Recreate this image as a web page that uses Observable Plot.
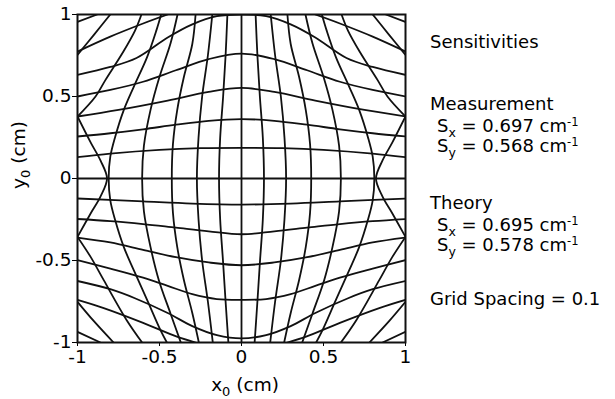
<!DOCTYPE html>
<html>
<head>
<meta charset="utf-8">
<script src="https://cdn.jsdelivr.net/npm/d3@7"></script>
<script src="https://cdn.jsdelivr.net/npm/@observablehq/plot@0.6"></script>
<style>
  body { margin: 0; background: #fff; }
  #chart { position: relative; width: 615px; height: 399px; }
</style>
</head>
<body>
<div id="chart"></div>
<script>
// ---- tick labels ----
const xTicks = [-1, -0.5, 0, 0.5, 1];
const yTicks = [-1, -0.5, 0, 0.5, 1];

const horizontalUpper = [
  [[-1, 0], [1, 0]],
  [[-1, 0.13], [-0.8, 0.152], [-0.5, 0.175], [-0.25, 0.185], [0, 0.187], [0.25, 0.185], [0.5, 0.175], [0.8, 0.152], [1, 0.13]],
  [[-1, 0.256], [-0.8, 0.276], [-0.6, 0.3], [-0.4, 0.328], [-0.2, 0.352], [0, 0.362], [0.2, 0.352], [0.4, 0.328], [0.6, 0.3], [0.8, 0.276], [1, 0.256]],
  [[-1, 0.378], [-0.75, 0.418], [-0.45, 0.475], [-0.2, 0.528], [0, 0.552], [0.2, 0.528], [0.45, 0.475], [0.75, 0.418], [1, 0.378]],
  [[-1, 0.5], [-0.8, 0.54], [-0.6, 0.59], [-0.4, 0.66], [-0.2, 0.728], [0, 0.762], [0.2, 0.728], [0.4, 0.66], [0.6, 0.59], [0.8, 0.54], [1, 0.5]],
  [[-1, 0.632], [-0.8, 0.68], [-0.64, 0.735], [-0.45, 0.86], [-0.3, 0.94], [-0.15, 0.99], [0, 1.0], [0.15, 0.99], [0.3, 0.94], [0.45, 0.86], [0.64, 0.735], [0.8, 0.68], [1, 0.632]]
];

// ---- lines of constant measured y, lower half ----
const horizontalLower = [
  [[-1, -0.122], [-0.6, -0.14], [-0.3, -0.153], [0, -0.159], [0.3, -0.153], [0.6, -0.14], [1, -0.122]],
  [[-1, -0.247], [-0.8, -0.26], [-0.6, -0.278], [-0.4, -0.3], [-0.2, -0.322], [0, -0.34], [0.2, -0.322], [0.4, -0.3], [0.6, -0.278], [0.8, -0.26], [1, -0.247]],
  [[-1, -0.36], [-0.8, -0.39], [-0.6, -0.435], [-0.4, -0.48], [-0.2, -0.512], [0, -0.529], [0.2, -0.512], [0.4, -0.48], [0.6, -0.435], [0.8, -0.39], [1, -0.36]],
  [[-1, -0.498], [-0.8, -0.55], [-0.6, -0.605], [-0.45, -0.655], [-0.3, -0.705], [-0.15, -0.735], [0, -0.74], [0.15, -0.735], [0.3, -0.705], [0.45, -0.655], [0.6, -0.605], [0.8, -0.55], [1, -0.498]],
  [[-1, -0.625], [-0.8, -0.675], [-0.65, -0.73], [-0.45, -0.82], [-0.3, -0.9], [-0.15, -0.955], [0, -0.975], [0.15, -0.955], [0.3, -0.9], [0.45, -0.82], [0.65, -0.73], [0.8, -0.675], [1, -0.625]]
];

// ---- lines of constant measured x, left half ----
const verticalLeft = [
  [[0, -1], [0, 1]],
  [[-0.08, -1], [-0.097, -0.75], [-0.113, -0.5], [-0.13, -0.25], [-0.137, 0], [-0.13, 0.25], [-0.112, 0.5], [-0.097, 0.75], [-0.086, 1]],
  [[-0.175, -1], [-0.205, -0.75], [-0.24, -0.5], [-0.262, -0.25], [-0.272, 0], [-0.262, 0.25], [-0.24, 0.5], [-0.205, 0.75], [-0.178, 1]],
  [[-0.26, -1], [-0.3, -0.82], [-0.351, -0.62], [-0.392, -0.417], [-0.418, -0.21], [-0.425, 0], [-0.418, 0.21], [-0.392, 0.417], [-0.351, 0.62], [-0.3, 0.82], [-0.28, 1]],
  [[-0.37, -1], [-0.433, -0.823], [-0.504, -0.62], [-0.555, -0.417], [-0.595, -0.2], [-0.606, 0], [-0.595, 0.2], [-0.555, 0.417], [-0.5, 0.62], [-0.433, 0.823], [-0.39, 1]],
  [[-0.455, -1], [-0.494, -0.925], [-0.575, -0.742], [-0.657, -0.559], [-0.718, -0.417], [-0.77, -0.255], [-0.8, -0.133], [-0.81, 0], [-0.8, 0.133], [-0.77, 0.255], [-0.718, 0.417], [-0.657, 0.559], [-0.575, 0.742], [-0.52, 0.9], [-0.49, 1]]
];

// ---- lines of constant measured x, right half ----
const verticalRight = [
  [[0.08, -1], [0.097, -0.75], [0.113, -0.5], [0.13, -0.25], [0.137, 0], [0.13, 0.25], [0.112, 0.5], [0.097, 0.75], [0.086, 1]],
  [[0.175, -1], [0.205, -0.75], [0.24, -0.5], [0.262, -0.25], [0.272, 0], [0.262, 0.25], [0.24, 0.5], [0.205, 0.75], [0.178, 1]],
  [[0.26, -1], [0.3, -0.82], [0.351, -0.62], [0.392, -0.417], [0.418, -0.21], [0.425, 0], [0.418, 0.21], [0.392, 0.417], [0.351, 0.62], [0.3, 0.82], [0.28, 1]],
  [[0.37, -1], [0.433, -0.823], [0.504, -0.62], [0.555, -0.417], [0.595, -0.2], [0.606, 0], [0.595, 0.2], [0.555, 0.417], [0.5, 0.62], [0.433, 0.823], [0.39, 1]],
  [[0.455, -1], [0.494, -0.925], [0.575, -0.742], [0.657, -0.559], [0.718, -0.417], [0.77, -0.255], [0.8, -0.133], [0.81, 0], [0.8, 0.133], [0.77, 0.255], [0.718, 0.417], [0.657, 0.559], [0.575, 0.742], [0.52, 0.9], [0.49, 1]]
];

// ---- pieces that meet the frame (folds near the edges and corners) ----
const edgePieces = [
  [[-1, 0.378], [-0.92, 0.22], [-0.86, 0.11], [-0.82, 0], [-0.86, -0.11], [-0.92, -0.213], [-1, -0.356]],
  [[1, 0.378], [0.92, 0.22], [0.86, 0.11], [0.82, 0], [0.86, -0.11], [0.92, -0.213], [1, -0.356]],
  [[-1, 0.378], [-0.89, 0.5], [-0.83, 0.6], [-0.72, 0.774], [-0.65, 0.9], [-0.61, 1]],
  [[1, 0.378], [0.89, 0.5], [0.83, 0.6], [0.72, 0.774], [0.65, 0.9], [0.61, 1]],
  [[-1, -0.356], [-0.92, -0.478], [-0.84, -0.62], [-0.7, -0.864], [-0.606, -1]],
  [[1, -0.356], [0.92, -0.478], [0.84, -0.62], [0.7, -0.864], [0.606, -1]],
  [[-1, 0.754], [-0.9, 0.876], [-0.8, 1]],
  [[1, 0.754], [0.9, 0.876], [0.8, 1]],
  [[-1, -0.752], [-0.9, -0.87], [-0.78, -1]],
  [[1, -0.752], [0.9, -0.87], [0.78, -1]],
  [[-1, 0.774], [-0.8, 0.865], [-0.6, 0.945], [-0.45, 1]],
  [[1, 0.774], [0.8, 0.865], [0.6, 0.945], [0.45, 1]],
  [[-1, -0.74], [-0.84, -0.79], [-0.6, -0.88], [-0.39, -0.966], [-0.28, -1]],
  [[1, -0.74], [0.84, -0.79], [0.6, -0.88], [0.39, -0.966], [0.28, -1]],
  [[-1, 0.955], [-0.88, 1]],
  [[1, 0.955], [0.88, 1]],
  [[-1, -0.935], [-0.86, -1]],
  [[1, -0.935], [0.86, -1]]
];

// ---- annotation text ----
const legendTitle = "Sensitivities";
const groupNames = ["Measurement", "Theory"];
const sensitivityAxes = ["x", "y"];
const measurementValues = ["0.697", "0.568"];
const theoryValues = ["0.695", "0.578"];
const gridNote = "Grid Spacing = 0.1";

// build a long table for the line mark
const rows = [];
[horizontalUpper, horizontalLower, verticalLeft, verticalRight, edgePieces].forEach((group, gi) => {
  group.forEach((curve, ci) => {
    curve.forEach(([x, y]) => rows.push({x, y, id: gi + "-" + ci}));
  });
});

const FONT = "DejaVu Sans, Liberation Sans, Arial, sans-serif";

const chart = Plot.plot({
  width: 615,
  height: 399,
  marginLeft: 77,
  marginRight: 210,
  marginTop: 14,
  marginBottom: 57,
  style: {fontFamily: FONT, fontSize: "18.5px", color: "black", background: "white"},
  x: {domain: [-1, 1], ticks: xTicks, tickFormat: d => String(d), tickSize: 4, tickPadding: 3, label: null},
  y: {domain: [-1, 1], ticks: yTicks, tickFormat: d => String(d), tickSize: 5, tickPadding: 1, label: null},
  marks: [
    Plot.line(rows, {x: "x", y: "y", z: "id", curve: "catmull-rom", stroke: "#111", strokeWidth: 1.8, clip: true}),
    Plot.frame({stroke: "#111", strokeWidth: 2})
  ]
});
document.getElementById("chart").appendChild(chart);

// ---- texts with sub/superscripts, added to the same SVG ----
const svg = d3.select(chart);
const txt = svg.append("g").attr("font-family", FONT).attr("font-size", 18.5).attr("fill", "black");

// x axis label
const xl = txt.append("text").attr("x", 245).attr("y", 391).attr("text-anchor", "middle");
xl.append("tspan").text("x");
xl.append("tspan").attr("font-size", 13).attr("dy", 5).text("0");
xl.append("tspan").attr("dy", -5).text(" (cm)");

// y axis label
const yl = txt.append("text").attr("transform", "translate(25,155) rotate(-90)").attr("text-anchor", "middle");
yl.append("tspan").text("y");
yl.append("tspan").attr("font-size", 13).attr("dy", 5).text("0");
yl.append("tspan").attr("dy", -5).text(" (cm)");

// legend block (left-aligned)
const lg = txt.append("g").attr("text-anchor", "start").attr("font-size", 18);
lg.append("text").attr("x", 430).attr("y", 48).text(legendTitle);

function sensLine(baseline, axis, value) {
  const t = lg.append("text").attr("x", 437).attr("y", baseline);
  t.append("tspan").text("S");
  t.append("tspan").attr("font-size", 12.5).attr("dy", 4.5).text(axis);
  t.append("tspan").attr("dy", -4.5).text(" = " + value + " cm");
  t.append("tspan").attr("font-size", 11.5).attr("dy", -6).text("-1");
}
lg.append("text").attr("x", 430).attr("y", 110).text(groupNames[0]);
sensLine(132, sensitivityAxes[0], measurementValues[0]);
sensLine(152, sensitivityAxes[1], measurementValues[1]);
lg.append("text").attr("x", 430).attr("y", 209).text(groupNames[1]);
sensLine(231, sensitivityAxes[0], theoryValues[0]);
sensLine(251, sensitivityAxes[1], theoryValues[1]);
lg.append("text").attr("x", 430).attr("y", 305).text(gridNote);
</script>
</body>
</html>
